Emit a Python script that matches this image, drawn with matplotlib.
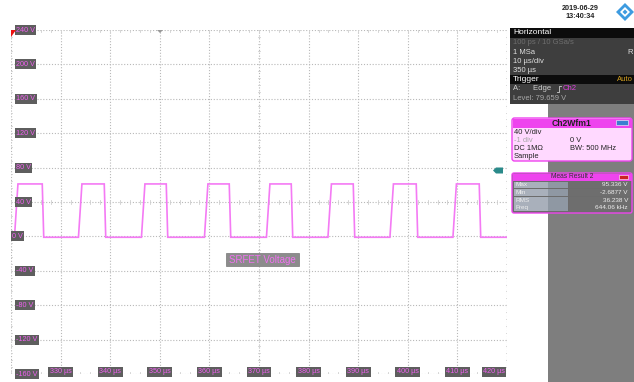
import matplotlib
matplotlib.use("Agg")
import matplotlib.pyplot as plt
from matplotlib.patches import Rectangle, FancyBboxPatch, Polygon

plt.rcParams['font.family'] = ['Liberation Sans', 'DejaVu Sans']

# ---------------- data ----------------
time_ticks_us = [330, 340, 350, 360, 370, 380, 390, 400, 410, 420]
volt_ticks = [240, 200, 160, 120, 80, 40, 0, -40, -80, -120, -160]
rise_start_us = [320.7, 333.6, 346.3, 359.0, 371.5, 383.9, 396.4, 409.1]
rise_end_us = [321.4, 334.3, 347.0, 359.7, 372.2, 384.6, 397.1, 409.8]
fall_start_us = [326.3, 338.8, 351.3, 364.0, 376.5, 389.0, 401.7, 414.4]
fall_end_us = [326.6, 339.1, 351.6, 364.3, 376.8, 389.3, 402.0, 414.7]
high_v = 61
low_v = -1
t_start, t_end = 320, 420
v_min, v_max = -160, 240
trace_label = "SRFET Voltage"
meas_names = ["Max", "Min", "RMS", "Freq"]
meas_values = ["95.336 V", "-2.6877 V", "36.238 V", "644.06 kHz"]

W, H = 634, 382
fig = plt.figure(figsize=(W / 100, H / 100), dpi=100)
fig.patch.set_facecolor('white')

# main scope area
L, T, R, B = 11, 30, 507, 374
ax = fig.add_axes([L / W, (H - B) / H, (R - L) / W, (B - T) / H])
ax.set_xlim(t_start, t_end)
ax.set_ylim(v_min, v_max)
for s in ax.spines.values():
    s.set_visible(False)
ax.set_xticks([])
ax.set_yticks([])

grid_kw = dict(color='#b8b8b8', lw=0.8, ls=(0, (1, 1.6)), zorder=1)
for x in [t_start] + time_ticks_us:
    ax.axvline(x, **grid_kw)
for y in volt_ticks:
    ax.axhline(y, **grid_kw)

# minor ticks on centre lines and edges
xc = (t_start + t_end) / 2
yc = 40
tick_c = '#cfcfcf'
for i in range(51):
    x = t_start + i * 2
    for yy in (yc, v_max, v_min):
        ax.plot([x, x], [yy - 1.8, yy + 1.8], color=tick_c, lw=0.6, zorder=1)
for i in range(51):
    y = v_min + i * 8
    for xx in (xc, t_start, t_end):
        ax.plot([xx - 0.25, xx + 0.25], [y, y], color=tick_c, lw=0.6, zorder=1)

# trace
tt = [t_start]
vv = [low_v]
for rs, re, fs, fe in zip(rise_start_us, rise_end_us, fall_start_us, fall_end_us):
    tt += [rs, re, fs, fe]
    vv += [low_v, high_v, high_v, low_v]
tt.append(t_end)
vv.append(low_v)
ax.plot(tt, vv, color='#f47af4', lw=1.2, zorder=3, solid_joinstyle='miter')

lab_box = dict(boxstyle='square,pad=0.2', fc='#5e5e5e', ec='none')
lab_col = '#f060f0'
fs_lab = 5.2
for v in volt_ticks:
    xpos = 1 / (R - L) if v == 0 else 5 / (R - L)
    ax.text(xpos, v, f"{v} V", transform=ax.get_yaxis_transform(), ha='left',
            va='center', fontsize=fs_lab, color=lab_col, bbox=lab_box, zorder=5)
for t in time_ticks_us:
    if t == t_end:
        ax.text(0.996, 0.006, f"{t} µs", transform=ax.transAxes, ha='right',
                va='center', fontsize=fs_lab, color=lab_col, bbox=lab_box, zorder=5)
    else:
        ax.text(t, 0.006, f"{t} µs", transform=ax.get_xaxis_transform(), ha='center',
                va='center', fontsize=fs_lab, color=lab_col, bbox=lab_box, zorder=5)

# ---------------- overlay in pixel coords ----------------
ov = fig.add_axes([0, 0, 1, 1], zorder=10)
ov.set_xlim(0, W)
ov.set_ylim(H, 0)
ov.axis('off')
ov.patch.set_alpha(0)

# SRFET label
ov.add_patch(Rectangle((226, 253), 73, 13, fc='#8c8c8c', ec='#777777', lw=0.5))
ov.text(262.5, 259.8, trace_label, ha='center', va='center', fontsize=7, color='#f070f0')

# red corner marker, trigger marker, level marker
ov.add_patch(Polygon([[11, 30], [16, 30], [11, 37]], closed=True, fc='#ee1111', ec='none'))
ov.add_patch(Polygon([[157, 30], [163, 30], [160, 33]], closed=True, fc='#999999', ec='none'))
ov.add_patch(Polygon([[493, 170.5], [496, 167.5], [503, 167.5], [503, 173.5], [496, 173.5]],
                     closed=True, fc='#2a8a8a', ec='none'))

# date / logo
ov.text(580, 8.5, "2019-06-29", ha='center', va='center', fontsize=5.2, color='#222222',
        fontweight='bold')
ov.text(580, 17, "13:40:34", ha='center', va='center', fontsize=5.2, color='#222222',
        fontweight='bold')
ov.add_patch(Polygon([[625, 3], [634, 12], [625, 21], [616, 12]], closed=True,
                     fc='#3d9be0', ec='none'))
ov.add_patch(Polygon([[625, 7], [630, 12], [625, 17], [620, 12]], closed=True,
                     fc='white', ec='none'))
ov.add_patch(Polygon([[625, 9.5], [627.5, 12], [625, 14.5], [622.5, 12]], closed=True,
                     fc='#3d9be0', ec='none'))

# grey column
ov.add_patch(Rectangle((548, 104), W - 548, H - 104, fc='#7e7e7e', ec='none'))

# Horizontal box
ov.add_patch(Rectangle((510, 28), W - 510, 76, fc='#3e3e3e', ec='none'))
ov.add_patch(Rectangle((510, 28), W - 510, 9.5, fc='#0c0c0c', ec='none'))
ov.text(513, 33, "Horizontal", ha='left', va='center', fontsize=6, color='white')
ov.text(513, 43, "100 ps / 10 GSa/s", ha='left', va='center', fontsize=5.5, color='#6e6e6e')
ov.text(513, 52.5, "1 MSa", ha='left', va='center', fontsize=5.5, color='#e0e0e0')
ov.text(633, 52.5, "R", ha='right', va='center', fontsize=5.5, color='#e0e0e0')
ov.text(513, 61.5, "10 µs/div", ha='left', va='center', fontsize=5.5, color='#e0e0e0')
ov.text(513, 70, "350 µs", ha='left', va='center', fontsize=5.5, color='#e0e0e0')
ov.add_patch(Rectangle((510, 75), W - 510, 8.5, fc='#0c0c0c', ec='none'))
ov.text(513, 79.5, "Trigger", ha='left', va='center', fontsize=6, color='white')
ov.text(633, 79.5, "Auto", ha='right', va='center', fontsize=5.5, color='#d4a020')
ov.text(513, 89, "A:      Edge", ha='left', va='center', fontsize=5.5, color='#d0d0d0')
ov.plot([557, 559, 559, 561], [92, 92, 86, 86], color='#d0d0d0', lw=0.6)
ov.text(563, 89, "Ch2", ha='left', va='center', fontsize=5.5, color='#e040e0')
ov.text(513, 98, "Level: 79.659 V", ha='left', va='center', fontsize=5.5, color='#a8a8a8')

# Ch2Wfm1 box
ov.add_patch(FancyBboxPatch((512, 118), 120, 43, boxstyle='round,pad=0,rounding_size=2.5',
                            fc='#ffd9ff', ec='#ee44ee', lw=1.0))
ov.add_patch(Rectangle((512.5, 118.5), 119, 9, fc='#ee44ee', ec='none'))
ov.text(572, 123, "Ch2Wfm1", ha='center', va='center', fontsize=6.2, color='#222222',
        fontweight='bold')
ov.add_patch(Rectangle((616, 120), 12, 5, fc='#3b7fd0', ec='white', lw=0.4))
fsb = 5.4
ov.text(514, 133, "40 V/div", ha='left', va='center', fontsize=fsb, color='#222222')
ov.text(514, 141, "-1 div", ha='left', va='center', fontsize=fsb, color='#a8a8a8')
ov.text(570, 141, "0 V", ha='left', va='center', fontsize=fsb, color='#222222')
ov.text(514, 149, "DC 1MΩ", ha='left', va='center', fontsize=fsb, color='#222222')
ov.text(570, 149, "BW: 500 MHz", ha='left', va='center', fontsize=fsb, color='#222222')
ov.text(514, 156.8, "Sample", ha='left', va='center', fontsize=fsb, color='#222222')

# Meas Result box
ov.add_patch(FancyBboxPatch((512, 173), 120, 40, boxstyle='round,pad=0,rounding_size=2',
                            fc='#6c6c6c', ec='#ee44ee', lw=1.0))
ov.add_patch(Rectangle((512.5, 173.5), 119, 7, fc='#ee44ee', ec='none'))
ov.text(572, 177, "Meas Result 2", ha='center', va='center', fontsize=4.8, color='#333333')
ov.add_patch(Rectangle((619, 175), 9, 4, fc='#cc2222', ec='white', lw=0.4))
for i, (nm, val) in enumerate(zip(meas_names, meas_values)):
    y0 = 181.5 + i * 7.6
    ov.add_patch(Rectangle((514, y0), 54, 6.8, fc='#a9b0bb', ec='none'))
    ov.add_patch(Rectangle((548, y0), 20, 6.8, fc='#7f8894', ec='none', alpha=0.6))
    ov.add_patch(Rectangle((569, y0), 61, 6.8, fc='#6e6e6e', ec='none'))
    ov.text(516, y0 + 3.4, nm, ha='left', va='center', fontsize=4.6, color='#eeeeee')
    ov.text(628, y0 + 3.4, val, ha='right', va='center', fontsize=4.6, color='#eeeeee')

fig.savefig("out.png", dpi=100)
